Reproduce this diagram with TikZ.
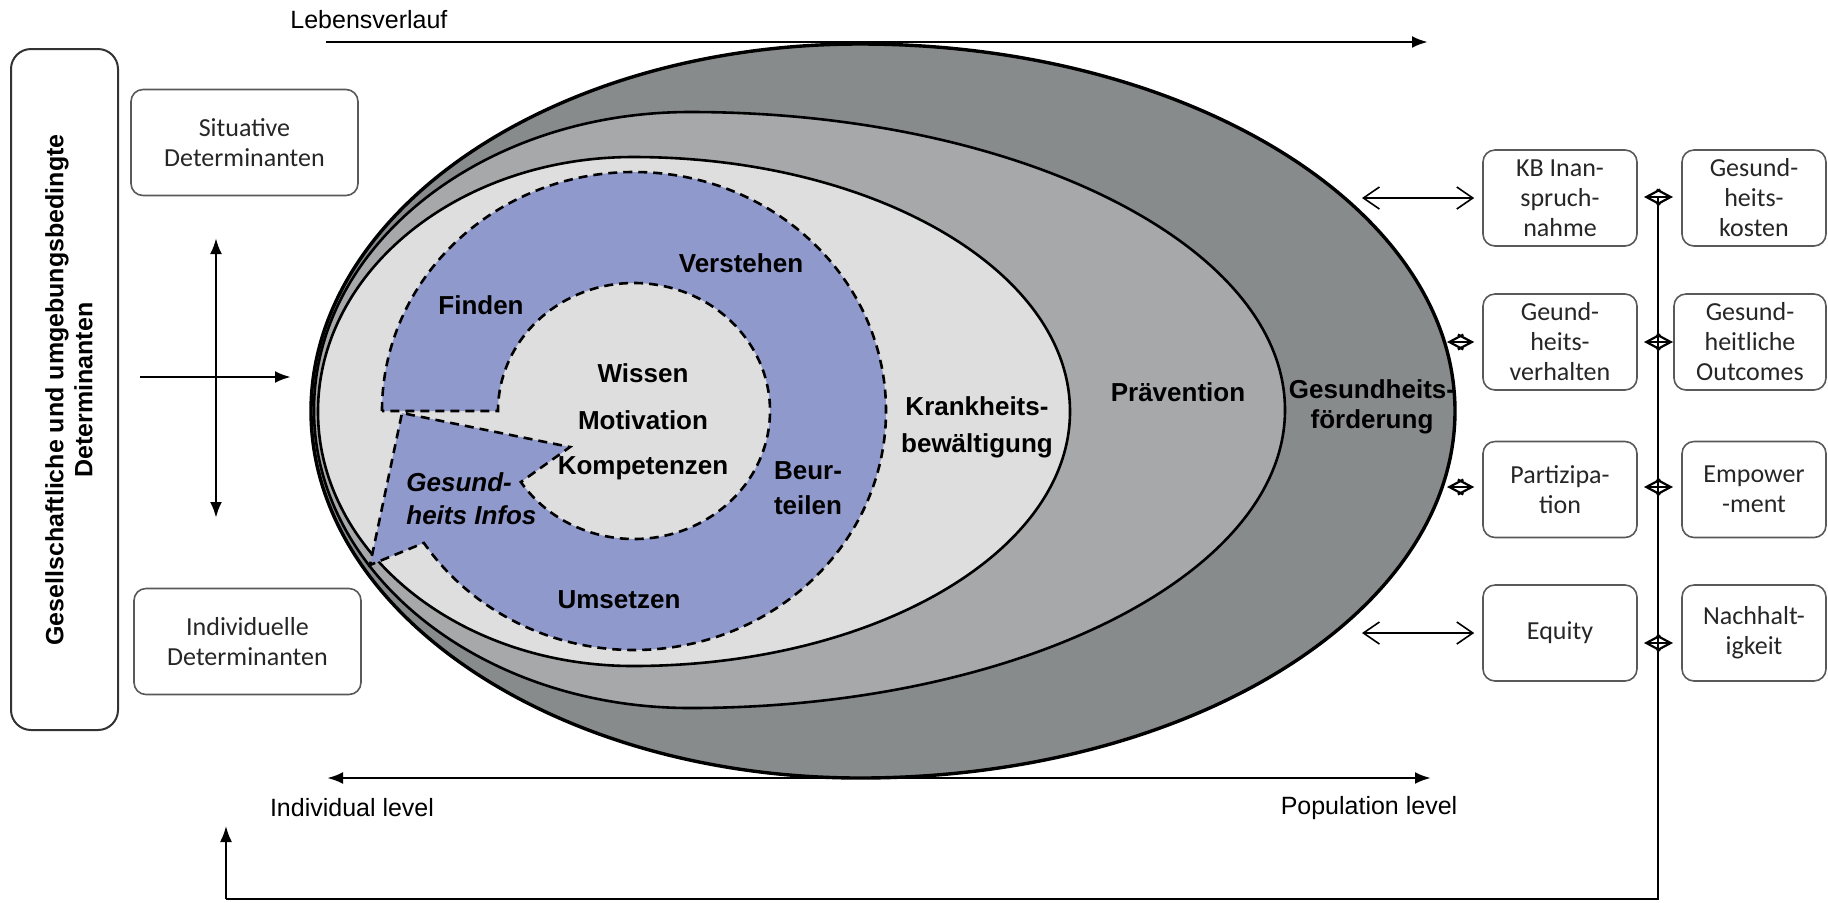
\documentclass[tikz,border=0pt]{standalone}
\usepackage{fontspec}
\setmainfont{Liberation Sans}
\newfontfamily\calfont{Carlito}
\usetikzlibrary{arrows.meta}
\definecolor{outerg}{RGB}{136,139,140}
\definecolor{midg}{RGB}{166,168,169}
\definecolor{lightg}{RGB}{222,222,222}
\definecolor{ringblue}{RGB}{143,153,204}
\begin{document}
\begin{tikzpicture}[x=0.5pt,y=-0.5pt,
  lbl/.style={font=\fontsize{13}{15}\selectfont\bfseries, align=center, inner sep=0pt},
  plain/.style={font=\fontsize{12.5}{15}\selectfont, inner sep=0pt},
  box/.style={draw=black!65, line width=0.8pt, rounded corners=6pt, align=center,
    font=\calfont\fontsize{13}{15}\selectfont, text=black!85, inner sep=0pt},
  rbox/.style={box, minimum width=77pt, minimum height=48pt},
  lbox/.style={box, minimum width=113.5pt, minimum height=53pt},
  ring/.style={fill=ringblue, draw=black, line width=1.3pt, dash pattern=on 4.5pt off 3pt},
  fat/.style={line width=1.4pt, -{Latex[length=8pt,width=6pt]}},
  fatboth/.style={line width=1.4pt, {Latex[length=8pt,width=6pt]}-{Latex[length=8pt,width=6pt]}},
  openboth/.style={line width=0.8pt, {Straight Barb[length=8pt,width=11pt]}-{Straight Barb[length=8pt,width=11pt]}},
  diam/.style={line width=1.1pt, {Straight Barb[length=7pt,width=7.5pt]}-{Straight Barb[length=7pt,width=7.5pt]}},
  thinline/.style={line width=0.8pt}
]
\useasboundingbox (0,0) rectangle (1828,902);

% nested egg-shaped ellipses (left half rounder than right half)
\draw[fill=outerg, line width=1.7pt] (860,44)
  arc[start angle=270, end angle=90, x radius=549, y radius=367]
  arc[start angle=90, end angle=-90, x radius=595, y radius=367] -- cycle;
\draw[fill=midg, line width=1.3pt] (690,112)
  arc[start angle=270, end angle=90, x radius=376, y radius=298]
  arc[start angle=90, end angle=-90, x radius=595, y radius=298] -- cycle;
\draw[fill=lightg, line width=1.3pt] (633,157)
  arc[start angle=270, end angle=90, x radius=315, y radius=254.5]
  arc[start angle=90, end angle=-90, x radius=437, y radius=254.5] -- cycle;

% blue ring arrow
\path[ring] (382,411) arc[start angle=180, end angle=506.5, x radius=252, y radius=239]
  -- (370,565) -- (402,413) -- (570,447)
  -- ([shift={(634,411)}]146.3:136 and 128)
  arc[start angle=506.3, end angle=180, x radius=136, y radius=128] -- cycle;

% ring labels
\node[lbl] (fi) at (481,305) {Finden};
\node[lbl] (ve) at (741,263) {Verstehen};
\node[lbl, font=\fontsize{13}{17.5}\selectfont\bfseries] (be) at (808,488) {Beur-\\teilen};
\node[lbl] (um) at (619,600) {Umsetzen};
\node[lbl, anchor=west, align=left, font=\fontsize{13}{16.5}\selectfont\bfseries\itshape] (gi) at (406,499) {Gesund-\\heits Infos};
\node[lbl] (wi) at (643,373) {Wissen};
\node[lbl] (mo) at (643,420) {Motivation};
\node[lbl] (ko) at (643,468) {Kompetenzen};

% ellipse labels
\node[lbl, font=\fontsize{13}{18.5}\selectfont\bfseries] (kb) at (977,427) {Krankheits-\\bewältigung};
\node[lbl] (pr) at (1178,392) {Prävention};
\node[lbl] (gf) at (1372,407) {Gesundheits-\\förderung};

% top and bottom axes
\node[plain, anchor=west] (lv) at (290,20) {Lebensverlauf};
\coordinate (lvA) at (326,42);
\coordinate (lvB) at (1428,42);
\draw[fat] (lvA) -- (lvB);
\coordinate (ilA) at (327,778);
\coordinate (ilB) at (1431,778);
\draw[fatboth] (ilA) -- (ilB);
\node[plain] (il) at (352,808) {Individual level};
\node[plain] (pl) at (1369,808) {Population level};

% left side
\node[draw=black!80, line width=1pt, rounded corners=10pt, minimum width=53.5pt, minimum height=340.5pt] (tall) at (64.5,389.5) {};
\node[rotate=90, align=center, font=\fontsize{12.5}{14.5}\selectfont\bfseries, inner sep=0pt] (gt) at (69,390)
  {Gesellschaftliche und umgebungsbedingte\\Determinanten};
\node[lbox] (sit) at (244.5,142.5) {Situative\\Determinanten};
\node[lbox] (ind) at (247.5,641.5) {Individuelle\\Determinanten};
\coordinate (hA) at (140,377);
\coordinate (hB) at (291,377);
\draw[fat] (hA) -- (hB);
\coordinate (vA) at (216,238);
\coordinate (vB) at (216,518);
\draw[fatboth] (vA) -- (vB);

% right boxes
\node[rbox] (k1) at (1560,198) {KB Inan-\\spruch-\\nahme};
\node[rbox] (k2) at (1560,342) {Geund-\\heits-\\verhalten};
\node[rbox] (k3) at (1560,489.5) {Partizipa-\\tion};
\node[rbox] (k4) at (1560,633) {Equity};
\node[rbox, minimum width=72pt] (c1) at (1754,198) {Gesund-\\heits-\\kosten};
\node[rbox, minimum width=76pt] (c2) at (1750,342) {Gesund-\\heitliche\\Outcomes};
\node[rbox, minimum width=72pt] (c3) at (1754,489.5) {Empower\\-ment};
\node[rbox, minimum width=72pt] (c4) at (1754,633) {Nachhalt-\\igkeit};

% ellipse to first column
\coordinate (e1) at (1362,198);
\coordinate (e2) at (1447,342);
\coordinate (e3) at (1447,487);
\coordinate (e4) at (1362,633);
\draw[openboth, shorten >=4pt] (e1) -- (k1.west);
\draw[diam, shorten >=4pt] (e2) -- (k2.west);
\draw[diam, shorten >=4pt] (e3) -- (k3.west |- e3);
\draw[openboth, shorten >=4pt] (e4) -- (k4.west);

% feedback line
\coordinate (d1) at (1658,197);
\coordinate (d2) at (1658,342);
\coordinate (d3) at (1658,487);
\coordinate (d4) at (1658,643);
\coordinate (b1) at (1658,899);
\coordinate (b2) at (226,899);
\coordinate (b3) at (226,826);
\draw[thinline] (d1) -- (b1) -- (b2);
\draw[line width=1pt, -{Latex[length=8pt,width=6pt]}] (b2) -- (b3);
\foreach \d in {d1,d2,d3,d4}{
  \draw[diam] ([xshift=-7pt]\d) -- ([xshift=7.5pt]\d);
}
\end{tikzpicture}
\end{document}
